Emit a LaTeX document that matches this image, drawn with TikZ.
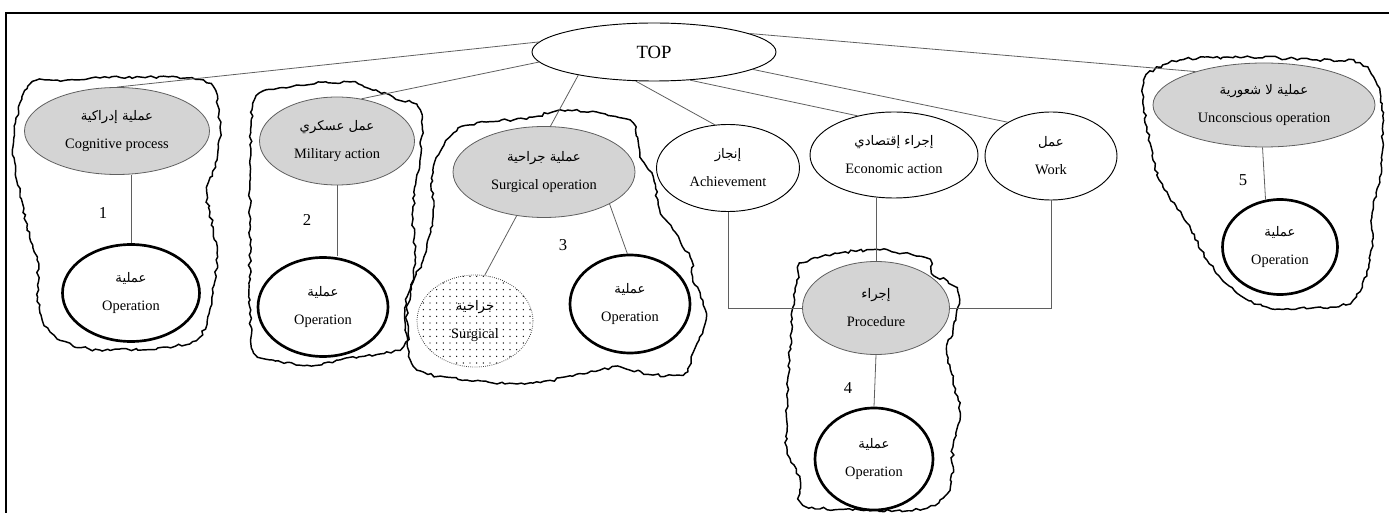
\documentclass[tikz,border=0pt]{standalone}
\usepackage{fontspec}
\setmainfont{Liberation Serif}
\newfontfamily\arabicfont[Script=Arabic,Scale=0.92]{DejaVu Sans}
\TeXXeTstate=1
\usetikzlibrary{shapes.geometric, patterns, decorations.pathmorphing, calc}
\definecolor{shadegray}{RGB}{212,212,212}
\definecolor{edgegray}{RGB}{95,95,95}
\newcommand{\artxt}[1]{{\arabicfont\beginR #1\endR}}
\pgfdeclarepatternformonly{sparsedots}{\pgfqpoint{-1pt}{-1pt}}{\pgfqpoint{6pt}{6pt}}{\pgfqpoint{5pt}{5pt}}{\pgfpathcircle{\pgfqpoint{2.5pt}{2.5pt}}{0.55pt}\pgfusepath{fill}}
\tikzset{
  concept/.style 2 args={ellipse, inner sep=0pt, align=center, minimum width=#1*0.75pt, minimum height=#2*0.75pt, font=\fontsize{10.8}{21}\selectfont},
  sense/.style={fill=shadegray, draw=edgegray, line width=0.6pt},
  plain/.style={fill=white, draw=black, line width=0.7pt},
  oper/.style={fill=white, draw=black, line width=2pt},
  spotted/.style={pattern=sparsedots, draw=black!75, densely dotted, line width=0.6pt},
  link/.style={draw=edgegray, line width=0.6pt},
  blob/.style={draw=black, line width=1.1pt, decorate, decoration={random steps, segment length=3pt, amplitude=1.1pt}},
  numlabel/.style={font=\fontsize{12.5}{14}\selectfont}
}

\begin{document}
\begin{tikzpicture}[x=0.75pt, y=-0.75pt]
  \useasboundingbox (0,0) rectangle (1389,513);
  \draw[line width=1.2pt] (6,513) -- (6,13) -- (1389,13);

  % hand-drawn groups
  \pgfmathsetseed{11}
  \draw[blob] plot[smooth cycle] coordinates {(33,82) (67,80) (100,78) (140,77) (187,78) (213,87) (220,127) (217,160) (207,193) (213,227) (217,253) (213,293) (200,337) (167,347) (100,350) (60,340) (40,313) (37,260) (27,227) (20,193) (13,147) (20,103)};
  \draw[blob] plot[smooth cycle] coordinates {(260,93) (297,85) (350,82) (373,90) (393,97) (420,110) (420,160) (413,210) (415,260) (407,310) (403,347) (340,360) (307,365) (273,360) (253,350) (250,300) (250,230) (250,160) (252,110)};
  \draw[blob] plot[smooth cycle] coordinates {(450,137) (470,125) (533,117) (560,110) (600,113) (633,123) (640,157) (653,177) (660,210) (673,230) (690,257) (693,277) (700,293) (705,310) (703,330) (693,353) (685,373) (653,375) (620,367) (600,370) (533,383) (467,380) (417,370) (407,343) (407,297) (423,260) (433,217) (433,170)};
  \draw[blob] plot[smooth cycle] coordinates {(803,263) (840,253) (880,250) (913,255) (930,260) (933,273) (957,288) (958,307) (953,330) (947,350) (953,380) (960,413) (953,447) (950,487) (927,508) (860,510) (803,505) (800,480) (787,447) (787,397) (790,347) (793,307) (797,280)};
  \draw[blob] plot[smooth cycle] coordinates {(1147,75) (1180,60) (1250,57) (1313,60) (1360,63) (1380,93) (1382,160) (1373,210) (1370,260) (1353,300) (1323,308) (1267,307) (1237,293) (1207,260) (1187,223) (1163,187) (1153,160) (1147,127) (1143,100)};

  % concepts
  \node[concept={244}{58}, plain, font=\fontsize{14}{16}\selectfont] (top) at (654,52) {TOP};
  \node[concept={185}{87}, sense] (cog) at (117,131) {\artxt{عملية إدراكية}\\Cognitive process};
  \node[concept={137}{97}, oper] (op1) at (131,293) {\artxt{عملية}\\Operation};
  \node[concept={155}{88}, sense] (mil) at (337,141) {\artxt{عمل عسكري}\\Military action};
  \node[concept={130}{99}, oper] (op2) at (323,307) {\artxt{عملية}\\Operation};
  \node[concept={182}{91}, sense] (surg) at (544,172) {\artxt{عملية جراحية}\\Surgical operation};
  \node[concept={116}{92}, spotted] (dot) at (475,321) {\artxt{جراحية}\\Surgical};
  \node[concept={120}{98}, oper] (op3) at (630,304) {\artxt{عملية}\\Operation};
  \node[concept={143}{87}, plain] (ach) at (728,168) {\artxt{إنجاز}\\Achievement};
  \node[concept={168}{86}, plain] (econ) at (894,155) {\artxt{إجراء إقتصادي}\\Economic action};
  \node[concept={132}{88}, plain] (work) at (1051,156) {\artxt{عمل}\\Work};
  \node[concept={147}{93}, sense] (proc) at (876,308) {\artxt{إجراء}\\Procedure};
  \node[concept={118}{102}, oper] (op4) at (874,459) {\artxt{عملية}\\Operation};
  \node[concept={222}{84}, sense] (unc) at (1264,105) {\artxt{عملية لا شعورية}\\Unconscious operation};
  \node[concept={115}{95}, oper] (op5) at (1280,247) {\artxt{عملية}\\Operation};

  % links from TOP
  \draw[link] (top.175) -- (cog.north);
  \draw[link] (top.185) -- (mil.60);
  \draw[link] (top.197) -- (surg.82);
  \draw[link] (top.238) -- (ach.107);
  \draw[link] (top.322) -- (econ.133);
  \draw[link] (top.350) -- (work.142);
  \draw[link] (top.11) -- (unc.154);

  % links inside the groups
  \draw[link] (op1.north) -- (op1.north |- cog.south);
  \draw[link] (mil.south) -- (mil.south |- op2.north);
  \draw[link] (surg.238) -- (dot.78);
  \draw[link] (surg.334) -- (op3.93);
  \draw[link] (ach.south) |- (proc.west);
  \draw[link] (proc.north) -- (proc.north |- econ.south);
  \draw[link] (work.south) |- (proc.east);
  \draw[link] (proc.south) -- (op4.north);
  \draw[link] (unc.268) -- (op5.107);

  % group numbers
  \node[numlabel] (n1) at (103,213) {1};
  \node[numlabel] (n2) at (307,220) {2};
  \node[numlabel] (n3) at (563,245) {3};
  \node[numlabel] (n4) at (848,388) {4};
  \node[numlabel] (n5) at (1243,180) {5};
\end{tikzpicture}
\end{document}
